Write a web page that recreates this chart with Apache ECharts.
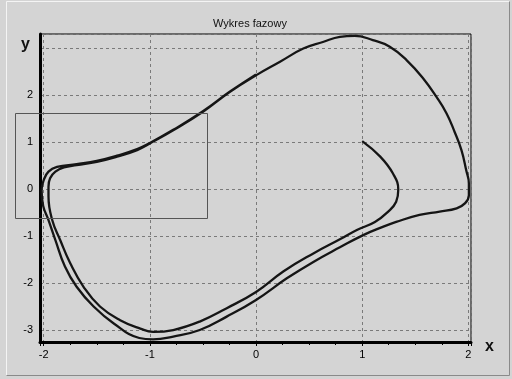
<!DOCTYPE html>
<html><head><meta charset="utf-8">
<script src="https://cdn.jsdelivr.net/npm/echarts@6/dist/echarts.min.js"></script>
<style>html,body{margin:0;padding:0;background:#d4d4d4;}#c{width:512px;height:379px;}</style>
</head><body><div id="c"></div>
<script>
// Axis ranges and labels
var titleText = 'Wykres fazowy';
var xRange = [-2.035, 2.025];
var yRange = [-3.255, 3.3];
var xName = 'x';
var yName = 'y';
// Zoom selection box [x1, y1, x2, y2] in data units
var zoomBox = [-2.27, 1.62, -0.46, -0.62];

// Trajectory, in path order
var startCurl = [[1.00,1.02],[1.17,0.69],[1.29,0.33],[1.34,-0.01],[1.32,-0.27],[1.245,-0.48],[1.12,-0.70],[0.95,-0.87]];
var innerLower = [[0.79,-1.07],[0.54,-1.37],[0.26,-1.75],[0.0,-2.19],[-0.28,-2.54],[-0.53,-2.82],[-0.78,-3.0],[-0.97,-3.04],[-1.09,-2.97]];
var innerLeft = [[-1.28,-2.79],[-1.47,-2.50],[-1.625,-2.08],[-1.75,-1.58],[-1.845,-1.085],[-1.92,-0.66],[-1.955,-0.16],[-1.955,0.05],[-1.94,0.23],[-1.89,0.37],[-1.81,0.46],[-1.69,0.51]];
var upperBranch = [[-1.50,0.58],[-1.31,0.69],[-1.12,0.83],[-1.0,0.97],[-0.78,1.25],[-0.50,1.645],[-0.245,2.07],[0.007,2.43],[0.226,2.71],[0.445,2.99],[0.63,3.13],[0.79,3.24],[0.93,3.26]];
var rightArc = [[1.10,3.17],[1.26,3.03],[1.42,2.74],[1.575,2.355],[1.70,1.96],[1.795,1.61],[1.87,1.22],[1.935,0.83],[1.98,0.40],[2.005,0.12],[2.005,-0.13],[1.97,-0.30],[1.89,-0.41],[1.73,-0.48],[1.54,-0.55],[1.32,-0.70],[1.2,-0.80],[1.01,-0.98]];
var outerLower = [[0.79,-1.24],[0.54,-1.55],[0.29,-1.90],[0.0,-2.36],[-0.28,-2.72],[-0.53,-3.0],[-0.78,-3.14],[-0.97,-3.2],[-1.10,-3.17]];
var outerLeft = [[-1.34,-2.86],[-1.53,-2.50],[-1.69,-2.08],[-1.80,-1.65],[-1.89,-1.085],[-1.955,-0.66],[-2.005,-0.36],[-2.02,-0.02],[-2.0,0.19],[-1.955,0.37],[-1.875,0.47]];
var outerUpper = [[-1.69,0.53],[-1.50,0.60],[-1.31,0.71],[-1.12,0.85],[-1.0,0.98],[-0.78,1.26],[-0.50,1.655],[-0.245,2.075],[0.0,2.44]];

var path = [].concat(startCurl, innerLower, innerLeft, upperBranch, rightArc, outerLower, outerLeft, outerUpper);

var chart = echarts.init(document.getElementById('c'), null, {renderer:'canvas'});
var font = 'Liberation Sans, Arial, sans-serif';
var option = {
  animation: false,
  backgroundColor: '#d4d4d4',
  title: {text: titleText, left: 245, textAlign: 'center', top: 13,
    textStyle: {fontSize: 11, fontWeight: 'normal', color: '#111', fontFamily: font}},
  grid: {left: 40, right: 41, top: 34, bottom: 37, show: true, borderColor: '#000', borderWidth: 1, backgroundColor: 'transparent'},
  xAxis: {type: 'value', min: xRange[0], max: xRange[1], splitNumber: 4,
    axisLine: {onZero: false, lineStyle: {color: '#000', width: 3}},
    axisTick: {show: true, length: 4, lineStyle: {color: '#000'}},
    minorTick: {show: true, splitNumber: 4, length: 3, lineStyle: {color: '#000'}},
    axisLabel: {showMinLabel: false, showMaxLabel: false, color: '#000', fontSize: 11, fontFamily: font, margin: 7},
    splitLine: {show: true, lineStyle: {color: '#7a7a7a', type: [3,3], width: 1}}},
  yAxis: {type: 'value', min: yRange[0], max: yRange[1], splitNumber: 6,
    axisLine: {onZero: false, lineStyle: {color: '#000', width: 3}},
    axisTick: {show: false},
    axisLabel: {showMinLabel: false, showMaxLabel: false, color: '#000', fontSize: 11, fontFamily: font, margin: 7,
      formatter: function(v){ return v === 3 ? '' : String(v); }},
    splitLine: {show: true, lineStyle: {color: '#7a7a7a', type: [3,3], width: 1}}},
  series: [{type: 'line', data: path, showSymbol: false, smooth: 0.45,
    lineStyle: {color: '#151515', width: 2.3}}]
};
chart.setOption(option);

var p1 = chart.convertToPixel({gridIndex: 0}, [zoomBox[0], zoomBox[1]]);
var p2 = chart.convertToPixel({gridIndex: 0}, [zoomBox[2], zoomBox[3]]);
chart.setOption({graphic: [
  {type: 'line', shape: {x1: 6.5, y1: 1.5, x2: 6.5, y2: 375.5}, style: {stroke: '#f4f4f4', lineWidth: 1}, silent: true},
  {type: 'line', shape: {x1: 6.5, y1: 1.5, x2: 509.5, y2: 1.5}, style: {stroke: '#f4f4f4', lineWidth: 1}, silent: true},
  {type: 'line', shape: {x1: 509.5, y1: 1.5, x2: 509.5, y2: 375.5}, style: {stroke: '#8a8a8a', lineWidth: 1}, silent: true},
  {type: 'line', shape: {x1: 6.5, y1: 375.5, x2: 509.5, y2: 375.5}, style: {stroke: '#8a8a8a', lineWidth: 1}, silent: true},
  {type: 'rect', shape: {x: Math.round(p1[0]) + 0.5, y: Math.round(p1[1]) + 0.5, width: Math.round(p2[0] - p1[0]), height: Math.round(p2[1] - p1[1])},
    style: {fill: 'none', stroke: '#555', lineWidth: 1}, silent: true, z: 10},
  {type: 'text', left: 21, top: 37, style: {text: yName, font: 'bold 16px ' + font, fill: '#111'}},
  {type: 'text', left: 485, top: 339, style: {text: xName, font: 'bold 16px ' + font, fill: '#111'}}
]});
</script>
</body></html>
